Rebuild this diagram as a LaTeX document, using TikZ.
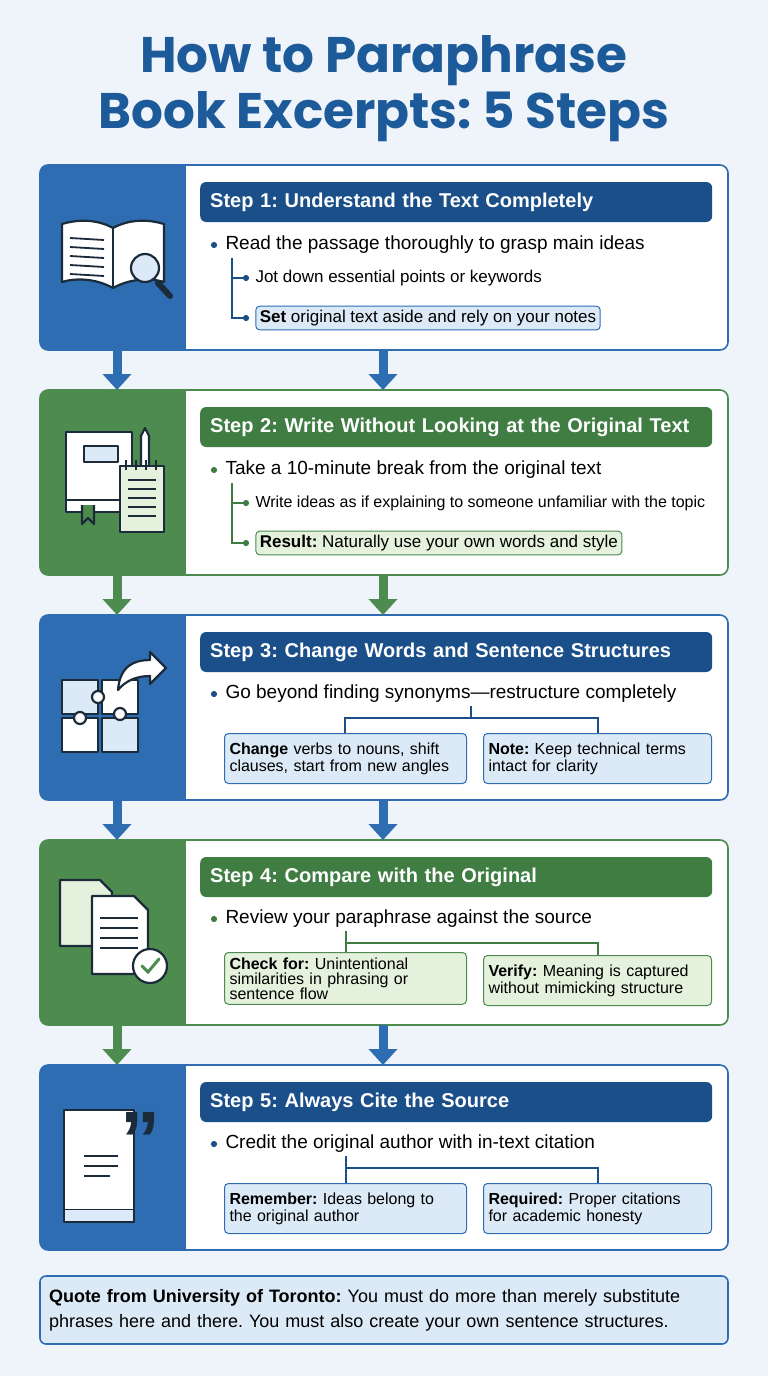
\documentclass[tikz,border=0pt]{standalone}
\usepackage{fontspec}
\setmainfont{Liberation Sans}
\newfontfamily\titlefont{Poppins}
\usetikzlibrary{positioning,arrows.meta}
\definecolor{bgpage}{HTML}{EEF4FA}
\definecolor{titleblue}{HTML}{1D5A9A}
\definecolor{stepblue}{HTML}{2F6DB3}
\definecolor{headblue}{HTML}{1B4F8A}
\definecolor{stepgreen}{HTML}{4D8B4F}
\definecolor{headgreen}{HTML}{3F7D42}
\definecolor{lightblue}{HTML}{DCE9F6}
\definecolor{lightgreen}{HTML}{E4F1DD}
\definecolor{iconline}{HTML}{1C2B3A}
\frenchspacing
\begin{document}
\begin{tikzpicture}[x=1pt,y=-1pt,
  header/.style={fill=#1,rounded corners=6pt,minimum height=40pt,minimum width=512pt,anchor=west,
    text=white,font=\fontsize{20}{23}\selectfont\bfseries,inner xsep=10pt,text width=492pt,align=left},
  bullet/.style={anchor=west,font=\fontsize{19}{22}\selectfont,inner sep=0pt},
  subline/.style={anchor=west,font=\fontsize{17}{20}\selectfont,inner sep=2pt},
  subbox/.style={draw=step#1,fill=light#1,line width=1pt,rounded corners=4pt,anchor=west,
    font=\fontsize{17}{20}\selectfont,inner sep=4pt},
  tipbox/.style={draw=step#1,fill=light#1,line width=1pt,rounded corners=4pt,anchor=north west,
    font=\fontsize{16}{17}\selectfont,align=left,inner sep=5pt,minimum height=50pt},
  dot/.style={circle,fill=#1,inner sep=2.2pt},
  flow/.style={line width=9pt,draw=#1,-{Triangle[width=28pt,length=16pt]}},
  icon/.style={draw=iconline,line width=2.2pt,fill=white,line join=round},
]
\fill[bgpage] (0,0) rectangle (768,1376);
\useasboundingbox (0,0) rectangle (768,1376);

% title
\node[font=\titlefont\bfseries\fontsize{50}{56}\selectfont,text=titleblue,align=center] (title)
  at (384,89) {How to Paraphrase\\Book Excerpts: 5 Steps};

% panels
\foreach \y/\c in {165/stepblue,390/stepgreen,615/stepblue,840/stepgreen,1065/stepblue}{
  \begin{scope}
    \clip[rounded corners=8pt] (40,\y) rectangle (728,\y+185);
    \fill[white] (40,\y) rectangle (728,\y+185);
    \fill[\c] (40,\y) rectangle (186,\y+185);
  \end{scope}
  \draw[\c,line width=1.6pt,rounded corners=8pt] (40,\y) rectangle (728,\y+185);
}

% connectors
\draw[flow=stepblue] (117,350) -- (117,390);
\draw[flow=stepblue] (383,350) -- (383,390);
\draw[flow=stepgreen] (117,575) -- (117,615);
\draw[flow=stepgreen] (383,575) -- (383,615);
\draw[flow=stepblue] (117,800) -- (117,840);
\draw[flow=stepblue] (383,800) -- (383,840);
\draw[flow=stepgreen] (117,1025) -- (117,1065);
\draw[flow=stepblue] (383,1025) -- (383,1065);

% step 1
\node[header=headblue] (h1) at (200,202) {Step 1: Understand the Text Completely};
\node[dot=headblue] (b1) at (214,245) {};
\node[bullet,right=8pt of b1] (t1) {Read the passage thoroughly to grasp main ideas};
\node[dot=headblue] (d1a) at (246,278) {};
\node[subline,right=4pt of d1a] (s1a) {Jot down essential points or keywords};
\node[dot=headblue] (d1b) at (246,318) {};
\node[subbox=blue,right=6pt of d1b] (s1b) {\textbf{Set} original text aside and rely on your notes};
\draw[headblue,line width=1.2pt] (232,258) |- (d1a) (232,270) |- (d1b);

% step 2
\node[header=headgreen] (h2) at (200,427) {Step 2: Write Without Looking at the Original Text};
\node[dot=headgreen] (b2) at (214,470) {};
\node[bullet,right=8pt of b2] (t2) {Take a 10-minute break from the original text};
\node[dot=headgreen] (d2a) at (246,503) {};
\node[subline,right=4pt of d2a,font=\fontsize{16}{18}\selectfont] (s2a) {Write ideas as if explaining to someone unfamiliar with the topic};
\node[dot=headgreen] (d2b) at (246,543) {};
\node[subbox=green,right=6pt of d2b] (s2b) {\textbf{Result:} Naturally use your own words and style};
\draw[headgreen,line width=1.2pt] (232,483) |- (d2a) (232,495) |- (d2b);

% step 3
\node[header=headblue] (h3) at (200,652) {Step 3: Change Words and Sentence Structures};
\node[dot=headblue] (b3) at (214,694) {};
\node[bullet,right=8pt of b3] (t3) {Go beyond finding synonyms—restructure completely};
\node[tipbox=blue,text width=232pt] (c3a) at (224,733) {\textbf{Change} verbs to nouns, shift\\clauses, start from new angles};
\node[tipbox=blue,text width=218pt] (c3b) at (483,733) {\textbf{Note:} Keep technical terms\\intact for clarity};
\draw[headblue,line width=1.2pt] (471,706) -- (471,718) (345,733) |- (598,718) -- (598,733);

% step 4
\node[header=headgreen] (h4) at (200,877) {Step 4: Compare with the Original};
\node[dot=headgreen] (b4) at (214,919) {};
\node[bullet,right=8pt of b4] (t4) {Review your paraphrase against the source};
\node[tipbox=green,text width=232pt,font=\fontsize{16}{15}\selectfont] (c4a) at (224,952) {\textbf{Check for:} Unintentional\\similarities in phrasing or\\sentence flow};
\node[tipbox=green,text width=218pt] (c4b) at (483,955) {\textbf{Verify:} Meaning is captured\\without mimicking structure};
\draw[headgreen,line width=1.2pt] (346,931) -- (346,943) (346,952) |- (598,943) -- (598,955);

% step 5
\node[header=headblue] (h5) at (200,1102) {Step 5: Always Cite the Source};
\node[dot=headblue] (b5) at (214,1144) {};
\node[bullet,right=8pt of b5] (t5) {Credit the original author with in-text citation};
\node[tipbox=blue,text width=232pt] (c5a) at (224,1183) {\textbf{Remember:} Ideas belong to\\the original author};
\node[tipbox=blue,text width=218pt] (c5b) at (483,1183) {\textbf{Required:} Proper citations\\for academic honesty};
\draw[headblue,line width=1.2pt] (346,1156) -- (346,1168) (346,1183) |- (598,1168) -- (598,1183);

% quote
\node[draw=stepblue,fill=lightblue,line width=1.6pt,rounded corners=6pt,minimum width=688pt,minimum height=68pt,
  font=\fontsize{18}{25}\selectfont,align=left,text width=670pt] (quote) at (384,1310)
  {\textbf{Quote from University of Toronto:} You must do more than merely substitute phrases here and there. You must also create your own sentence structures.};

% icon 1: open book and magnifier
\draw[icon] (113,228) .. controls (95,218) and (75,220) .. (62,224) -- (62,282) .. controls (75,278) and (95,278) .. (113,288)
  .. controls (131,278) and (151,278) .. (164,282) -- (164,224) .. controls (151,220) and (131,218) .. (113,228) -- cycle;
\draw[icon] (113,228) -- (113,288);
\foreach \k in {0,...,4}{\draw[iconline,line width=1.8pt] (70,238+\k*9) -- (104,240+\k*9);}
\draw[iconline,line width=6pt,line cap=round] (158,283) -- (170,296);
\draw[icon,fill=lightblue] (145,268) circle (14);

% icon 2: book, notepad, pencil
\draw[icon] (66,432) rectangle (132,500);
\draw[icon,fill=lightblue] (84,446) rectangle (118,462);
\draw[icon] (66,500) rectangle (132,512);
\draw[icon,fill=stepgreen] (82,505) -- (82,524) -- (88,518) -- (94,524) -- (94,505);
\draw[icon] (141,436) -- (141,470) -- (149,470) -- (149,436) -- (145,428) -- cycle;
\draw[icon,fill=lightgreen] (120,466) rectangle (164,532);
\foreach \k in {0,...,4}{\draw[iconline,line width=1.5pt] (128,480+\k*9) -- (156,480+\k*9);}
\foreach \k in {0,...,3}{\draw[iconline,line width=1.5pt] (126+\k*10,460) -- (126+\k*10,470);}

% icon 3: puzzle with curved arrow
\draw[icon,fill=lightblue] (62,680) rectangle (98,714);
\draw[icon,fill=white] (102,680) rectangle (138,714);
\draw[icon,fill=white] (62,718) rectangle (98,752);
\draw[icon,fill=lightblue] (102,718) rectangle (138,752);
\draw[icon] (98,697) circle (6) (120,714) circle (6) (80,718) circle (6);
\draw[icon] (118,690) .. controls (120,665) and (135,660) .. (150,660) -- (150,652) -- (166,668) -- (150,684) -- (150,676)
  .. controls (138,676) and (126,680) .. (118,690) -- cycle;

% icon 4: documents with check
\draw[icon,fill=lightgreen] (60,880) -- (100,880) -- (112,892) -- (112,946) -- (60,946) -- cycle;
\draw[icon] (92,896) -- (134,896) -- (148,910) -- (148,974) -- (92,974) -- cycle;
\foreach \k in {0,...,3}{\draw[iconline,line width=1.5pt] (100,918+\k*10) -- (138,918+\k*10);}
\draw[icon,fill=white] (150,966) circle (17);
\draw[stepgreen,line width=3pt,line cap=round] (142,966) -- (148,972) -- (159,959);

% icon 5: book with quote mark
\draw[icon] (64,1110) rectangle (134,1210);
\draw[icon,fill=lightblue] (64,1210) -- (64,1222) -- (134,1222) -- (134,1210);
\draw[iconline,line width=1.8pt] (84,1156) -- (118,1156) (84,1166) -- (118,1166) (84,1176) -- (110,1176);
\node[text=iconline,font=\fontsize{80}{80}\selectfont\bfseries] (q5) at (140,1140) {”};
\end{tikzpicture}
\end{document}
